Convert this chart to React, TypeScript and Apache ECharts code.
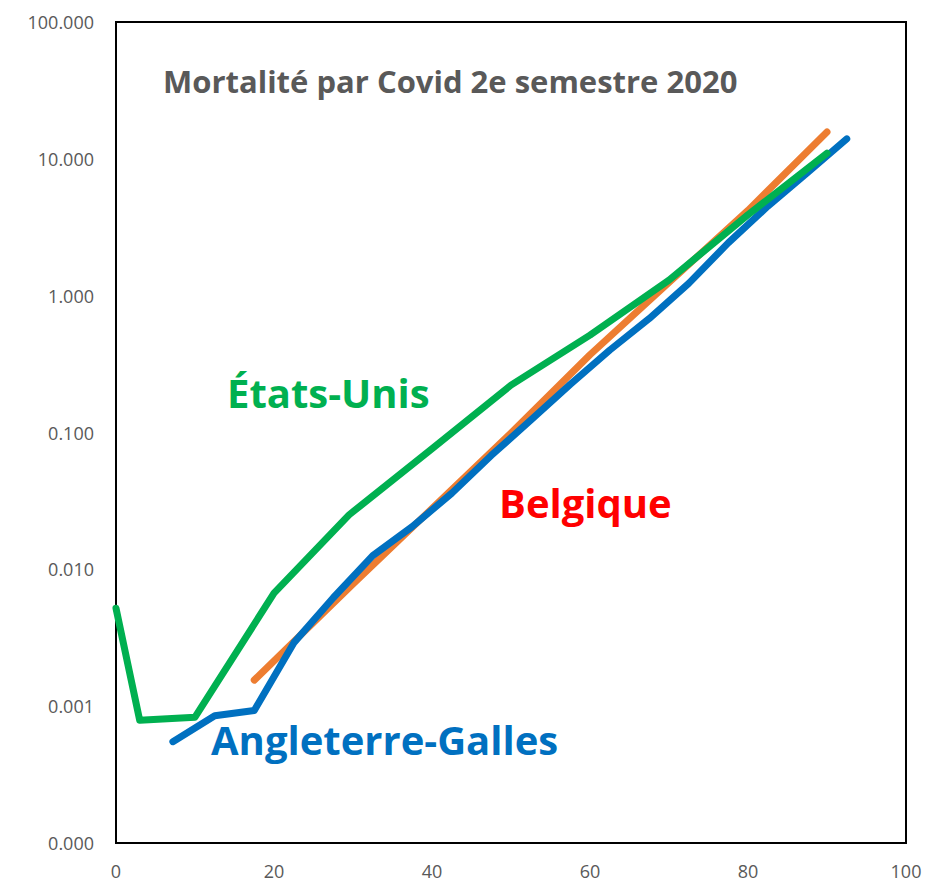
import React, { useEffect, useRef } from "react";
import * as echarts from "echarts";

const titleText = "Mortalité par Covid 2e semestre 2020";
const xTicks = [0, 20, 40, 60, 80, 100];

const usAges = [0, 3, 10, 20, 29.5, 40, 50, 60, 70, 80, 90];
const usRates = [0.0052, 0.00079, 0.00083, 0.0067, 0.025, 0.076, 0.222, 0.515, 1.3, 3.9, 11.0];

const ewAges = [7.2, 12.5, 17.5, 22.5, 27.5, 32.5, 37.5, 42.5, 47.5, 52.5, 57.5, 62.5, 67.5, 72.5, 77.5, 82.5, 87.5, 92.5];
const ewRates = [0.00055, 0.00085, 0.00093, 0.0029, 0.0062, 0.0126, 0.0205, 0.036, 0.068, 0.123, 0.225, 0.4, 0.68, 1.23, 2.43, 4.5, 7.9, 14.0];

const beAges = [17.5, 30, 40, 50, 60, 70, 80, 90];
const beRates = [0.00155, 0.0078, 0.0278, 0.099, 0.37, 1.25, 4.2, 15.7];

const usLabel = "États-Unis";
const beLabel = "Belgique";
const ewLabel = "Angleterre-Galles";

const GREEN = "#00B050";
const BLUE = "#0070C0";
const ORANGE = "#ED7D31";
const RED = "#FF0000";
const GREY = "#595959";
const FONT = "'Open Sans', 'Noto Sans', sans-serif";

function pairs(xs: number[], ys: number[]) {
  return xs.map((x, i) => [x, ys[i]]);
}

export default function App() {
  const ref = useRef<HTMLDivElement>(null);
  useEffect(() => {
    if (!ref.current) return;
    const chart = echarts.init(ref.current, null, { renderer: "svg" });
    const lineSeries = (name: string, data: number[][], color: string, z: number) => ({
      type: "line",
      name,
      data,
      showSymbol: false,
      symbol: "none",
      z,
      lineStyle: { color, width: 7, cap: "round", join: "round" },
      itemStyle: { color },
    });
    chart.setOption({
      animation: false,
      backgroundColor: "#ffffff",
      title: {
        text: titleText,
        left: 158,
        top: 60,
        textStyle: { color: GREY, fontFamily: FONT, fontWeight: "bold", fontSize: 31 },
      },
      grid: {
        left: 116,
        top: 22,
        width: 790,
        height: 821,
        show: true,
        borderColor: "#000000",
        borderWidth: 2,
        backgroundColor: "transparent",
      },
      xAxis: {
        type: "value",
        min: 0,
        max: 100,
        interval: 20,
        axisLine: { show: false },
        axisTick: { show: false },
        splitLine: { show: false },
        axisLabel: { color: GREY, fontFamily: FONT, fontSize: 18, margin: 19 },
      },
      yAxis: {
        type: "log",
        logBase: 10,
        min: 0.0001,
        max: 100,
        axisLine: { show: false },
        axisTick: { show: false },
        splitLine: { show: false },
        axisLabel: {
          color: GREY,
          fontFamily: FONT,
          fontSize: 18,
          margin: 22,
          formatter: (v: number) => v.toFixed(3),
        },
      },
      series: [
        lineSeries("Belgique", pairs(beAges, beRates), ORANGE, 2),
        lineSeries("Angleterre-Galles", pairs(ewAges, ewRates), BLUE, 3),
        lineSeries("États-Unis", pairs(usAges, usRates), GREEN, 4),
      ],
      graphic: [
        {
          type: "text",
          left: 227,
          top: 372,
          z: 10,
          style: { text: usLabel, fill: GREEN, font: `bold 40px ${FONT}` },
        },
        {
          type: "text",
          left: 499,
          top: 482,
          z: 10,
          style: { text: beLabel, fill: RED, font: `bold 40px ${FONT}` },
        },
        {
          type: "text",
          left: 211,
          top: 719,
          z: 10,
          style: { text: ewLabel, fill: BLUE, font: `bold 40px ${FONT}` },
        },
      ],
    });
    return () => chart.dispose();
  }, []);
  return (
    <div
      ref={ref}
      style={{ position: "fixed", left: 0, top: 0, width: 927, height: 883, background: "#fff" }}
    />
  );
}
